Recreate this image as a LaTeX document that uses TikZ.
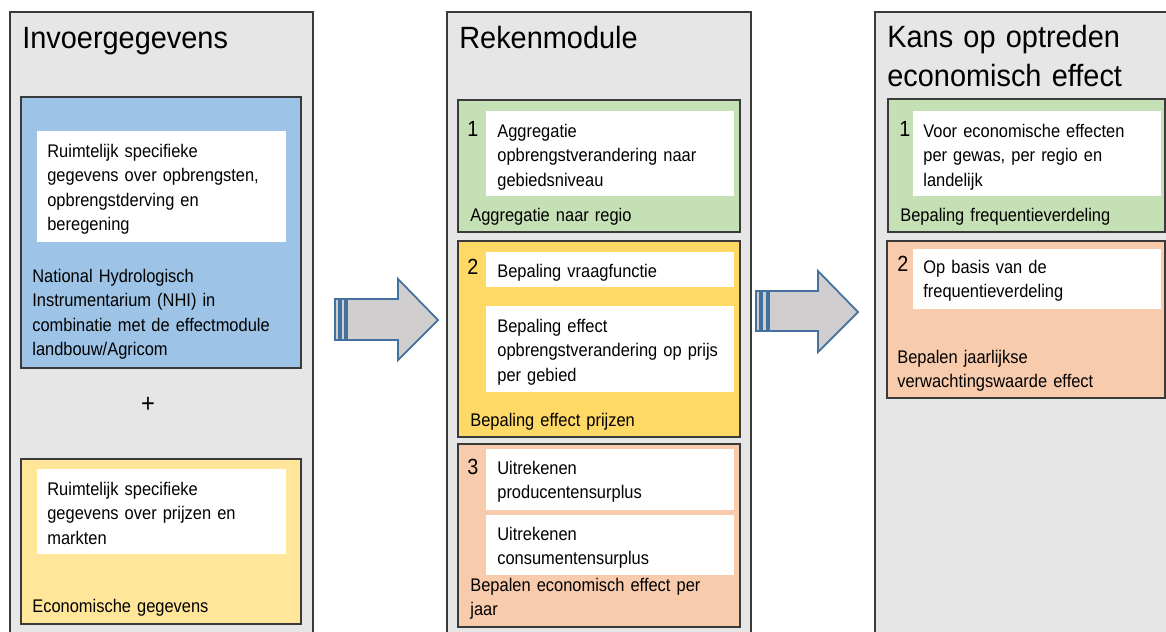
\documentclass[tikz,border=0pt]{standalone}
\usepackage{fontspec}
\setmainfont{Liberation Sans}[FakeStretch=0.9]
\newfontfamily\titlefont{Liberation Sans}[FakeStretch=0.94]
\usetikzlibrary{positioning}
\definecolor{panelgray}{HTML}{E6E6E6}
\definecolor{edgegray}{HTML}{3A3A3A}
\definecolor{nhiblue}{HTML}{9DC3E6}
\definecolor{paleyellow}{HTML}{FFE699}
\definecolor{stepgreen}{HTML}{C5E0B4}
\definecolor{stepyellow}{HTML}{FFD966}
\definecolor{steporange}{HTML}{F8CBAD}
\definecolor{arrowfill}{HTML}{D0CECE}
\definecolor{arrowedge}{HTML}{41719C}

\tikzset{
	panel/.style={draw=edgegray, fill=panelgray, line width=0.6pt},
	stepbox/.style={draw=edgegray, line width=0.9pt},
	whitebox/.style={fill=white, draw=none},
	blockarrow/.style={draw=arrowedge, fill=arrowfill, line width=1pt, line join=miter},
	title/.style={anchor=base west, inner sep=0pt, text width=8cm, align=left, font=\titlefont\fontsize{17.5}{22.3}\selectfont},
	txt/.style={anchor=base west, inner sep=0pt, text width=6cm, align=left, font=\fontsize{10.4}{14}\selectfont},
	num/.style={anchor=base west, inner sep=0pt, font=\fontsize{12.5}{14}\selectfont},
}

\begin{document}
\begin{tikzpicture}[x=0.02cm, y=-0.02cm, line cap=round]
		\useasboundingbox (0,0) rectangle (1166,632);
		% three columns
		\draw[panel] (10,12) rectangle (313,645);
		\draw[panel] (447,12) rectangle (751,645);
		\draw[panel] (875,12) rectangle (1175,645);
		\node[title] (invoer) at (22,48) {Invoergegevens};
		\node[title] (reken) at (459,48) {Rekenmodule};
		\node[title] (kans) at (887,47) {Kans op optreden\\economisch effect};

		% invoergegevens
		\draw[stepbox, fill=nhiblue] (21,97) rectangle (301,368);
		\fill[whitebox] (37,131) rectangle (286,242);
		\node[txt] (opbrengst) at (47,157) {Ruimtelijk specifieke\\gegevens over opbrengsten,\\opbrengstderving en\\beregening};
		\node[txt] (nhi) at (32,282) {National Hydrologisch\\Instrumentarium (NHI) in\\combinatie met de effectmodule\\landbouw/Agricom};
		\node[num, anchor=center, font=\fontsize{15}{15}\selectfont] (plus) at (148,405) {+};
		\draw[stepbox, fill=paleyellow] (21,459) rectangle (301,624);
		\fill[whitebox] (37,469) rectangle (286,554);
		\node[txt] (prijzen) at (47,495) {Ruimtelijk specifieke\\gegevens over prijzen en\\markten};
		\node[txt] (econ) at (32,612) {Economische gegevens};

		% rekenmodule
		\draw[stepbox, fill=stepgreen] (458,100) rectangle (740,232);
		\fill[whitebox] (486,111) rectangle (734,196);
		\node[num] (r1) at (467,136) {1};
		\node[txt] (aggr) at (497,137) {Aggregatie\\opbrengstverandering naar\\gebiedsniveau};
		\node[txt] (regio) at (470,221) {Aggregatie naar regio};

		\draw[stepbox, fill=stepyellow] (458,241) rectangle (740,437);
		\fill[whitebox] (486,252) rectangle (734,287);
		\fill[whitebox] (486,306) rectangle (734,392);
		\node[num] (r2) at (467,274) {2};
		\node[txt] (vraag) at (497,277) {Bepaling vraagfunctie};
		\node[txt] (effect) at (497,332) {Bepaling effect\\opbrengstverandering op prijs\\per gebied};
		\node[txt] (prijs) at (470,426) {Bepaling effect prijzen};

		\draw[stepbox, fill=steporange] (458,444) rectangle (740,627);
		\fill[whitebox] (486,449) rectangle (734,510);
		\fill[whitebox] (486,515) rectangle (734,575);
		\node[num] (r3) at (467,474) {3};
		\node[txt] (producent) at (497,474) {Uitrekenen\\producentensurplus};
		\node[txt] (consument) at (497,540) {Uitrekenen\\consumentensurplus};
		\node[txt] (jaar) at (470,591) {Bepalen economisch effect per\\jaar};

		% kans op optreden
		\draw[stepbox, fill=stepgreen] (888,99) rectangle (1165,232);
		\fill[whitebox] (913,111) rectangle (1161,196);
		\node[num] (k1) at (899,136) {1};
		\node[txt] (gewas) at (923,137) {Voor economische effecten\\per gewas, per regio en\\landelijk};
		\node[txt] (freq) at (900,221) {Bepaling frequentieverdeling};

		\draw[stepbox, fill=steporange] (887,241) rectangle (1165,398);
		\fill[whitebox] (913,249) rectangle (1161,309);
		\node[num] (k2) at (897,271) {2};
		\node[txt] (basis) at (923,273) {Op basis van de\\frequentieverdeling};
		\node[txt] (verwacht) at (897,363) {Bepalen jaarlijkse\\verwachtingswaarde effect};

		% block arrows between the columns
		\draw[blockarrow] (347,299) -- (398,299) -- (398,279) -- (438,320) -- (398,360) -- (398,340) -- (347,340) -- cycle;
		\draw[blockarrow] (335,299) rectangle (339,340);
		\draw[blockarrow] (341,299) rectangle (345,340);
		\draw[blockarrow] (769,291) -- (818,291) -- (818,271) -- (858,312) -- (818,352) -- (818,331) -- (769,331) -- cycle;
		\draw[blockarrow] (756,291) rectangle (760,331);
		\draw[blockarrow] (762,291) rectangle (767,331);
	\end{tikzpicture}
\end{document}
